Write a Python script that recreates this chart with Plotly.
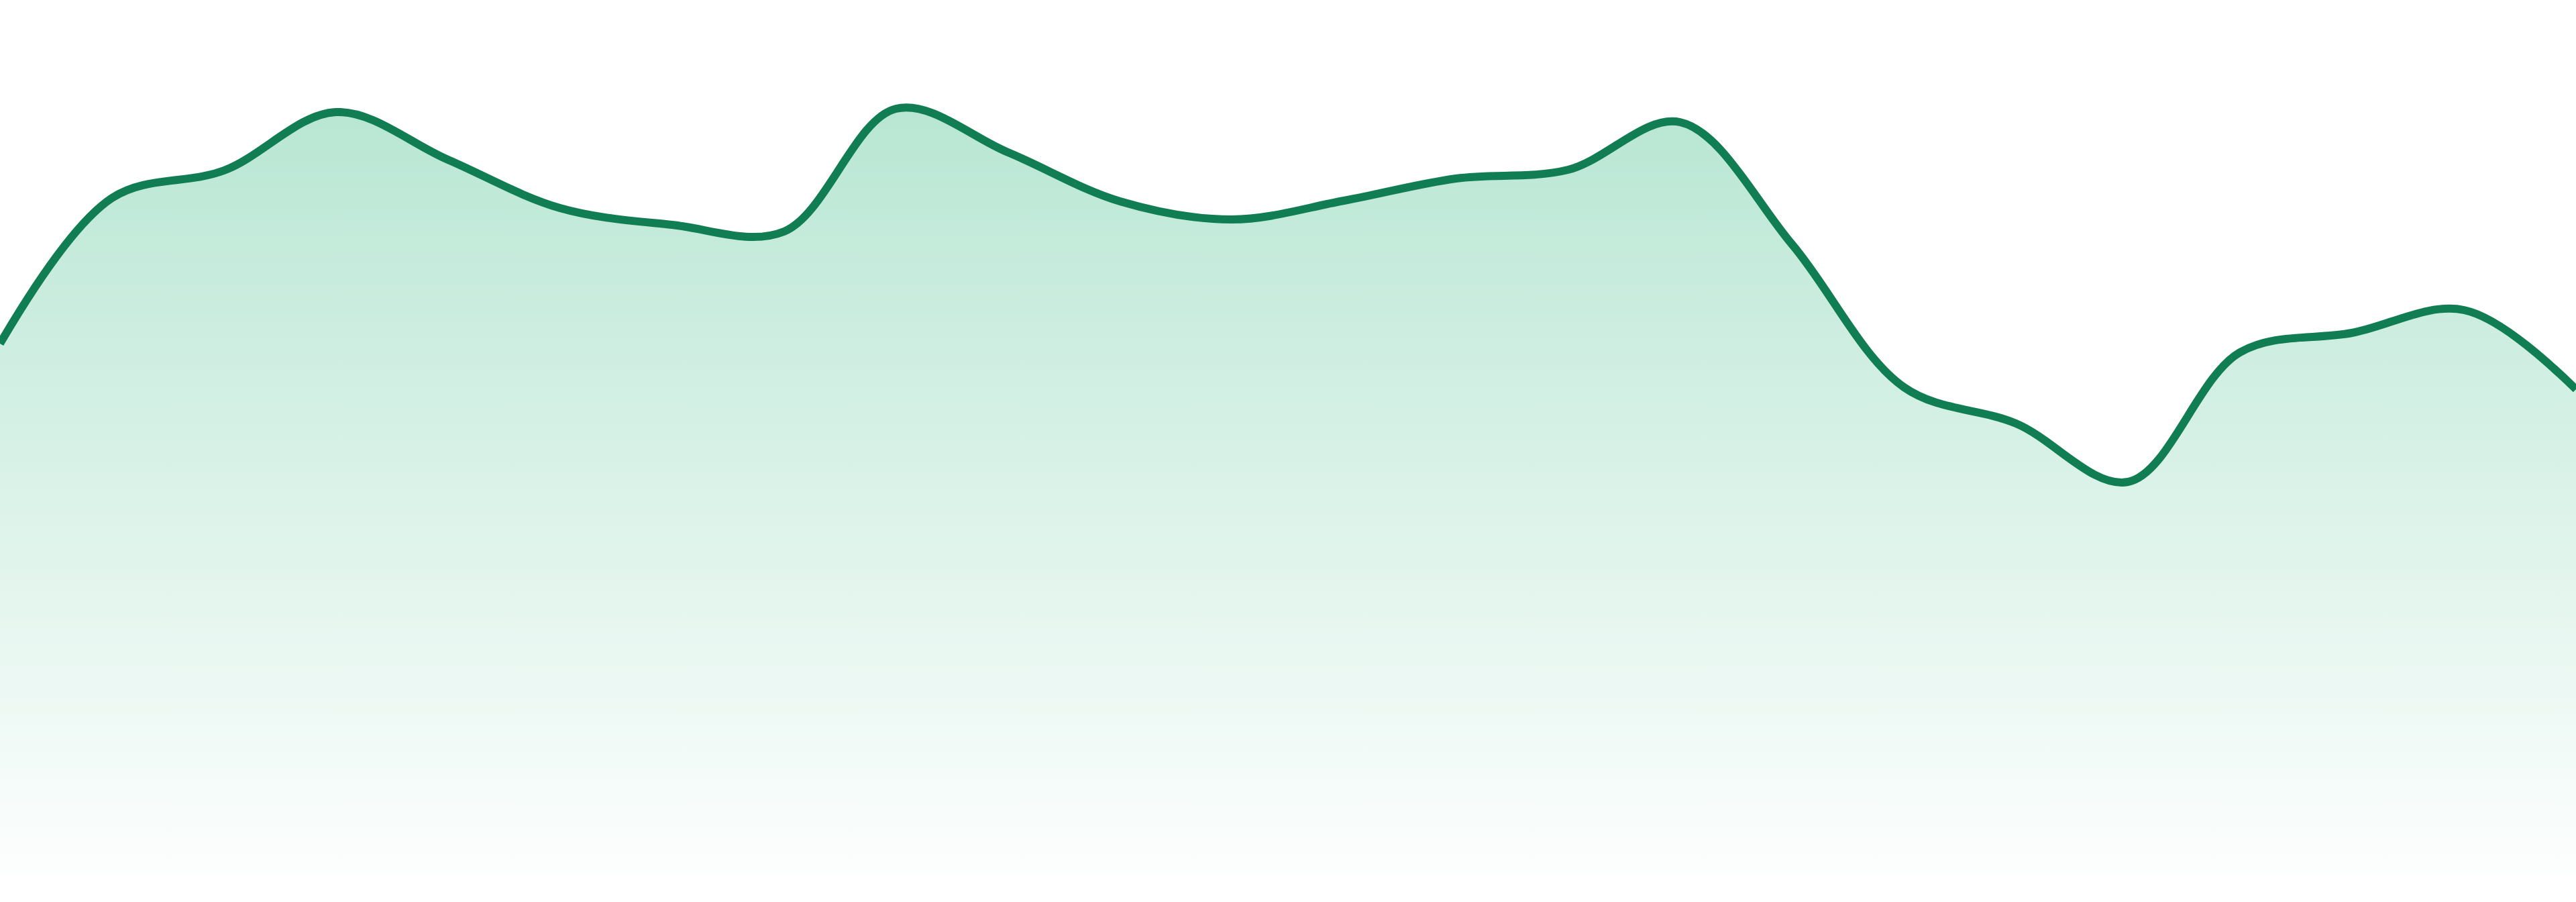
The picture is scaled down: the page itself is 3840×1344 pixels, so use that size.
import plotly.graph_objects as go

# values (baseline = 0)
points = list(range(24))
values = [79.3, 101.0, 105.1, 113.8, 106.7, 99.5, 97.0, 96.0,
          114.3, 107.8, 100.5, 97.8, 100.6, 103.9, 105.2, 112.3,
          94.1, 72.8, 67.4, 58.7, 78.0, 80.9, 84.3, 72.5]

line_color = "#117D52"

fig = go.Figure()
fig.add_trace(go.Scatter(
    x=points,
    y=values,
    mode="lines",
    line=dict(color=line_color, width=12, shape="spline", smoothing=1),
    fill="tozeroy",
    fillgradient=dict(
        type="vertical",
        colorscale=[[0, "rgba(186,231,212,0.03)"], [1, "rgba(184,230,211,1)"]],
    ),
    hoverinfo="skip",
))

fig.update_layout(
    width=3840,
    height=1344,
    margin=dict(l=0, r=0, t=0, b=0),
    paper_bgcolor="white",
    plot_bgcolor="white",
    showlegend=False,
    xaxis=dict(range=[0, 23], visible=False),
    yaxis=dict(range=[-3.9, 130.5], visible=False),
)

# page body has an 8px default margin, drop it so the chart fills the window
fig.write_html("out.html", config={"displayModeBar": False},
               post_script="document.body.style.margin='0';")
